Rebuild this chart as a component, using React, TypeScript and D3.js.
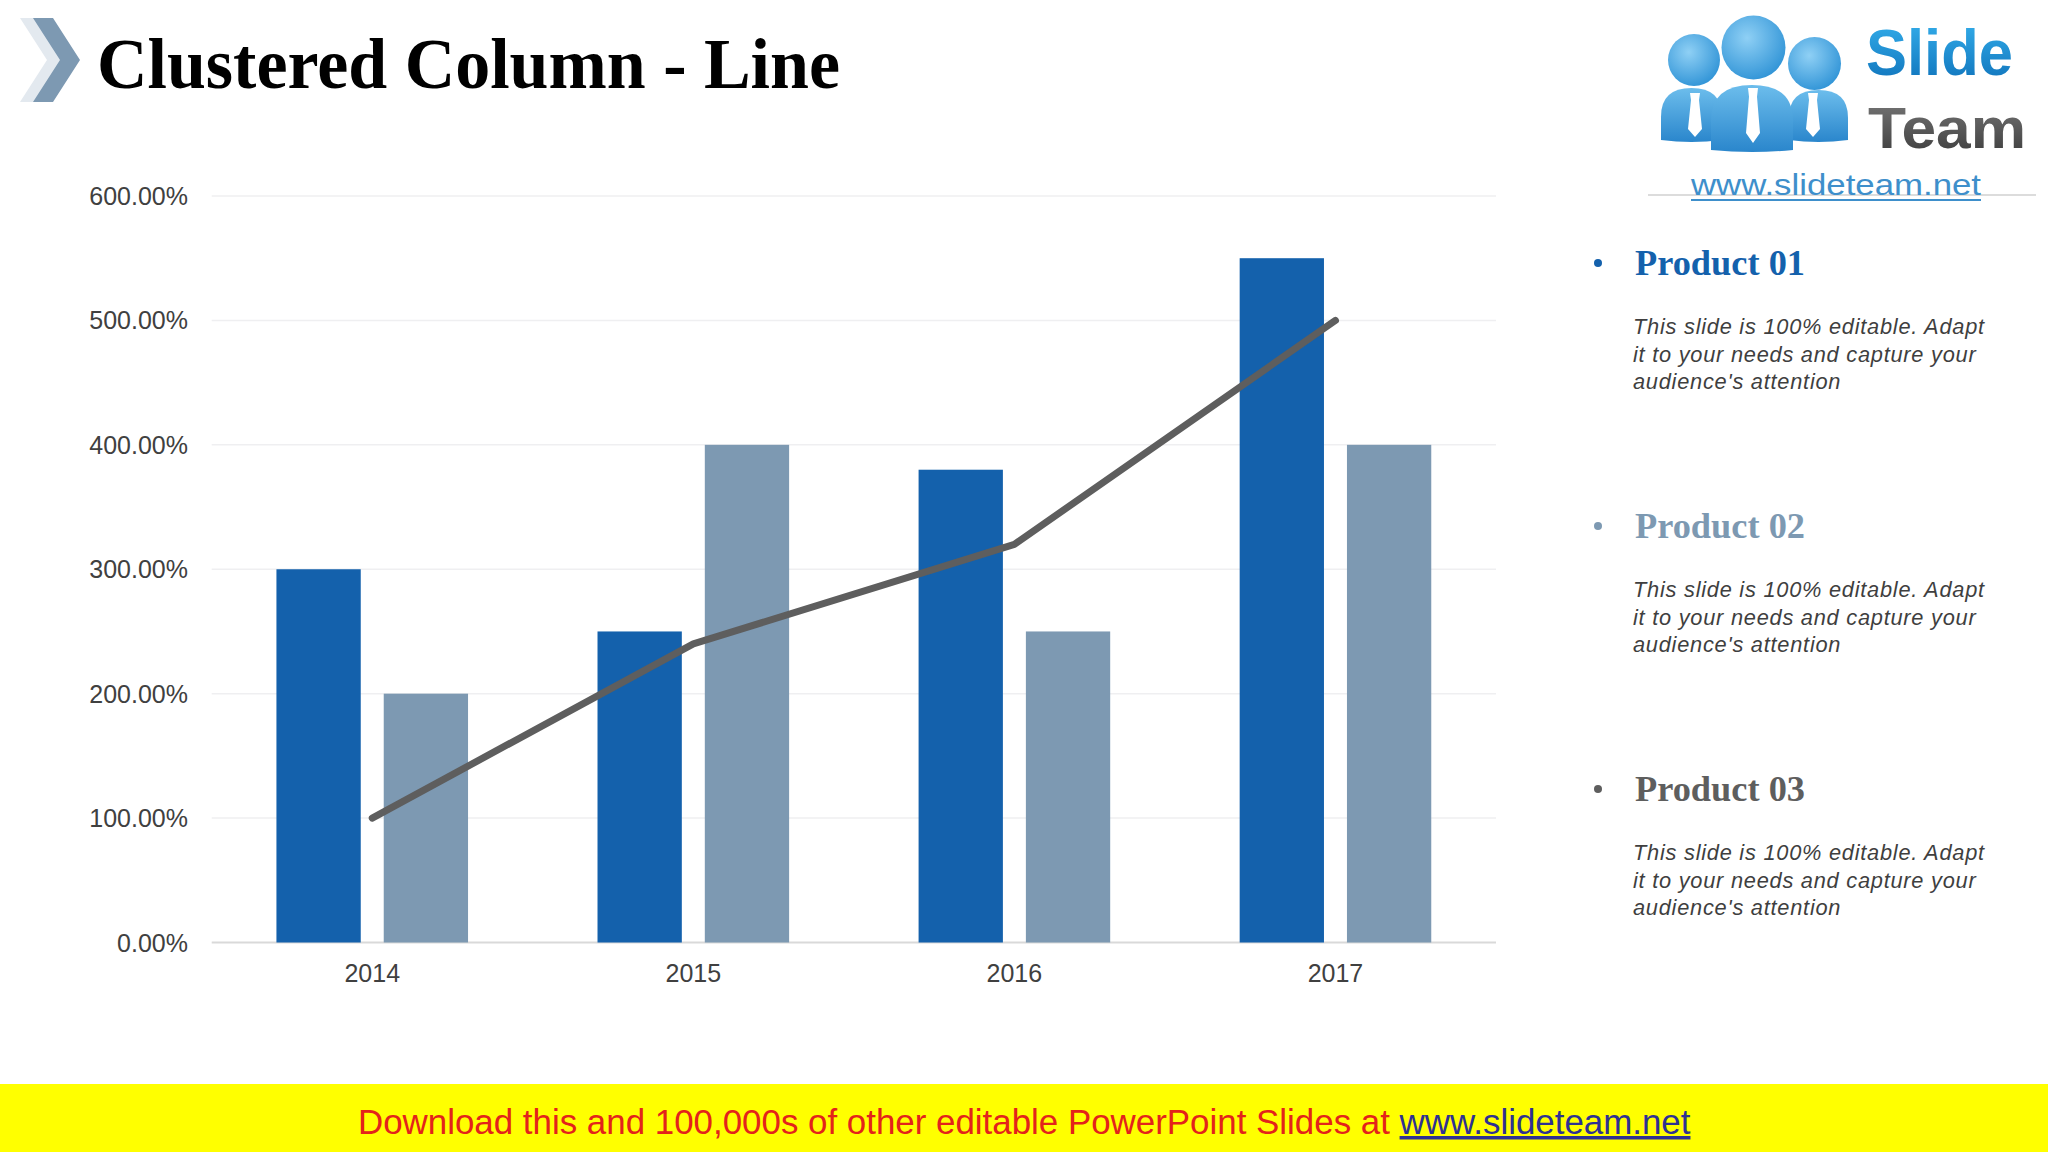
import React from "react";
import * as d3 from "d3";

const categories = ["2014", "2015", "2016", "2017"];
const seriesNames = ["Product 01", "Product 02", "Product 03"];
const product01 = [300, 250, 380, 550];
const product02 = [200, 400, 250, 400];
const product03 = [100, 240, 320, 500];
const yTicks = [0, 100, 200, 300, 400, 500, 600];
const description = [
  "This slide is 100% editable. Adapt",
  "it to your needs and capture your",
  "audience's attention",
];
const title = "Clustered Column - Line";
const footerText = "Download this and 100,000s of other editable PowerPoint Slides at ";
const footerLink = "www.slideteam.net";

const COLORS = ["#1461AC", "#7D99B2", "#5E5E5E"];

const W = 2048;
const H = 1152;
const plotLeft = 211.7;
const plotRight = 1496;
const yTop = 196;
const yBottom = 942.5;

function Tie({ cx, top, bottom }: { cx: number; top: number; bottom: number }) {
  const h = bottom - top;
  const d = `M${cx - 5},${top} L${cx + 5},${top} L${cx + 4},${top + h * 0.16} L${cx + 7},${top + h * 0.82} L${cx},${bottom} L${cx - 7},${top + h * 0.82} L${cx - 4},${top + h * 0.16} Z`;
  return <path d={d} fill="#ffffff" />;
}

function Body({ x0, x1, top, bottom }: { x0: number; x1: number; top: number; bottom: number }) {
  const mid = (x0 + x1) / 2;
  const r = (bottom - top) * 0.55;
  const d = `M${x0},${bottom} L${x0},${top + r} Q${x0},${top} ${mid},${top} Q${x1},${top} ${x1},${top + r} L${x1},${bottom} Q${mid},${bottom + 4} ${x0},${bottom} Z`;
  return <path d={d} fill="url(#bodyGrad)" />;
}

export default function App() {
  const x0 = d3.scaleBand<string>().domain(categories).range([plotLeft, plotRight]).padding(0);
  const groupWidth = 191.6;
  const x1 = d3
    .scaleBand<string>()
    .domain(["Product 01", "Product 02"])
    .range([0, groupWidth])
    .paddingInner(0.2143)
    .paddingOuter(0);
  const y = d3.scaleLinear().domain([0, 600]).range([yBottom, yTop]);
  const fmt = (v: number) => d3.format(".2f")(v) + "%";
  const cx = (c: string) => (x0(c) as number) + x0.bandwidth() / 2;

  const barSeries = [
    { name: "Product 01", values: product01, color: COLORS[0] },
    { name: "Product 02", values: product02, color: COLORS[1] },
  ];

  const linePath = d3
    .line<number>()
    .x((_, i) => cx(categories[i]))
    .y((d) => y(d))(product03) as string;

  const legendTop = 275;
  const legendStep = 263;

  return (
    <svg
      width={W}
      height={H}
      viewBox={`0 0 ${W} ${H}`}
      style={{ position: "absolute", left: 0, top: 0, background: "#ffffff" }}
    >
      <defs>
        <radialGradient id="headGrad" cx="40%" cy="35%" r="70%">
          <stop offset="0%" stopColor="#8fd0f5" />
          <stop offset="100%" stopColor="#2f93d6" />
        </radialGradient>
        <linearGradient id="bodyGrad" x1="0" y1="0" x2="0" y2="1">
          <stop offset="0%" stopColor="#6cbdec" />
          <stop offset="100%" stopColor="#2a86cc" />
        </linearGradient>
        <linearGradient id="slideGrad" x1="0" y1="0" x2="0" y2="1">
          <stop offset="0%" stopColor="#35b0ec" />
          <stop offset="100%" stopColor="#0d6fb8" />
        </linearGradient>
        <linearGradient id="teamGrad" x1="0" y1="0" x2="0" y2="1">
          <stop offset="0%" stopColor="#7a7a7a" />
          <stop offset="100%" stopColor="#3a3a3a" />
        </linearGradient>
      </defs>
      <rect x={0} y={0} width={W} height={H} fill="#ffffff" />

      {/* Title chevrons */}
      <polygon points="20,18 40,18 67,60 40,102 20,102 47,60" fill="#E3E9EF" />
      <polygon points="33,18 53,18 80,60 53,102 33,102 60,60" fill="#7D99B2" />
      <text
        x={97}
        y={88}
        fontFamily="'Liberation Serif', 'DejaVu Serif', serif"
        fontWeight="bold"
        fontSize={72}
        textLength={743}
        lengthAdjust="spacingAndGlyphs"
        fill="#000000"
      >
        {title}
      </text>

      {/* Logo */}
      <g>
        <circle cx={1694} cy={60} r={26} fill="url(#headGrad)" />
        <circle cx={1814.5} cy={63.5} r={26.5} fill="url(#headGrad)" />
        <Body x0={1661} x1={1722} top={88} bottom={140} />
        <Body x0={1789} x1={1848} top={90} bottom={140} />
        <circle cx={1753.5} cy={47.5} r={32} fill="url(#headGrad)" />
        <Body x0={1711} x1={1793} top={85} bottom={150} />
        <Tie cx={1695} top={93} bottom={137} />
        <Tie cx={1753} top={88} bottom={143} />
        <Tie cx={1813} top={93} bottom={137} />
        <text
          x={1866}
          y={75}
          fontFamily="'Liberation Sans', Arial, sans-serif"
          fontWeight="bold"
          fontSize={64}
          textLength={147}
          lengthAdjust="spacingAndGlyphs"
          fill="url(#slideGrad)"
        >
          Slide
        </text>
        <text
          x={1868}
          y={148}
          fontFamily="'Liberation Sans', Arial, sans-serif"
          fontWeight="bold"
          fontSize={58}
          textLength={158}
          lengthAdjust="spacingAndGlyphs"
          fill="url(#teamGrad)"
        >
          Team
        </text>
        <line x1={1648} x2={2036} y1={195} y2={195} stroke="#D0D0D0" strokeWidth={1.5} />
        <text
          x={1691}
          y={195}
          fontFamily="'Liberation Sans', Arial, sans-serif"
          fontSize={30}
          textLength={290}
          lengthAdjust="spacingAndGlyphs"
          fill="#3E8FCB"
        >
          www.slideteam.net
        </text>
        <line x1={1691} x2={1981} y1={200} y2={200} stroke="#3E8FCB" strokeWidth={2} />
      </g>

      {/* Gridlines */}
      {yTicks.map((t) => (
        <line
          key={"g" + t}
          x1={plotLeft}
          x2={plotRight}
          y1={y(t)}
          y2={y(t)}
          stroke={t === 0 ? "#D9D9D9" : "#EFEFF1"}
          strokeWidth={t === 0 ? 2 : 1.5}
        />
      ))}

      {/* Y tick labels */}
      {yTicks.map((t) => (
        <text
          key={"t" + t}
          x={188}
          y={y(t) + 9}
          textAnchor="end"
          fontFamily="'Liberation Sans', Arial, sans-serif"
          fontSize={25}
          fill="#404040"
        >
          {fmt(t)}
        </text>
      ))}

      {/* Bars */}
      {barSeries.map((s) =>
        s.values.map((v, i) => {
          const c = categories[i];
          const bx = cx(c) - groupWidth / 2 + (x1(s.name) as number);
          return (
            <rect
              key={s.name + c}
              x={bx}
              y={y(v)}
              width={x1.bandwidth()}
              height={y(0) - y(v)}
              fill={s.color}
            />
          );
        })
      )}

      {/* Line */}
      <path
        d={linePath}
        fill="none"
        stroke={COLORS[2]}
        strokeWidth={7}
        strokeLinecap="round"
        strokeLinejoin="round"
      />

      {/* X labels */}
      {categories.map((c) => (
        <text
          key={"x" + c}
          x={cx(c)}
          y={982}
          textAnchor="middle"
          fontFamily="'Liberation Sans', Arial, sans-serif"
          fontSize={25}
          fill="#404040"
        >
          {c}
        </text>
      ))}

      {/* Legend / descriptions */}
      {seriesNames.map((name, i) => {
        const base = legendTop + i * legendStep;
        return (
          <g key={"leg" + name}>
            <circle cx={1598} cy={base - 12} r={4} fill={COLORS[i]} />
            <text
              x={1635}
              y={base}
              fontFamily="'Liberation Serif', 'DejaVu Serif', serif"
              fontWeight="bold"
              fontSize={36}
              textLength={170}
              lengthAdjust="spacingAndGlyphs"
              fill={COLORS[i]}
            >
              {name}
            </text>
            {description.map((line, j) => (
              <text
                key={j}
                x={1633}
                y={base + 59 + j * 27.5}
                fontFamily="'Liberation Sans', Arial, sans-serif"
                fontStyle="italic"
                fontSize={21.8}
                letterSpacing={0.75}
                fill="#3F3F3F"
              >
                {line}
              </text>
            ))}
          </g>
        );
      })}

      {/* Footer */}
      <rect x={0} y={1084} width={W} height={H - 1084} fill="#FFFF00" />
      <text
        x={358}
        y={1134}
        fontFamily="'Liberation Sans', Arial, sans-serif"
        fontSize={34.9}
        fill="#E3231B"
      >
        {footerText}
        <tspan fill="#2E3192" textDecoration="underline">
          {footerLink}
        </tspan>
      </text>
    </svg>
  );
}
